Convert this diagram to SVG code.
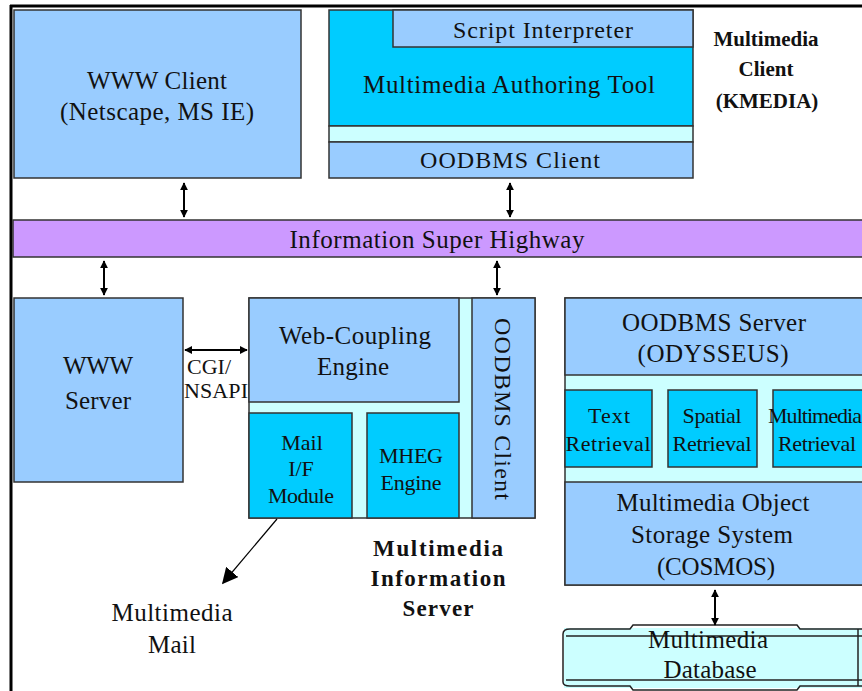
<svg xmlns="http://www.w3.org/2000/svg" width="862" height="691" viewBox="0 0 862 691">
<defs>
<style>
.lb{fill:#99ccff;stroke:#333;stroke-width:1.5}
.cy{fill:#00ccff;stroke:#333;stroke-width:1.5}
.lc{fill:#ccffff;stroke:#333;stroke-width:1.5}
.pu{fill:#cc99ff;stroke:#333;stroke-width:1.5}
text{font-family:"Liberation Serif","Times New Roman",serif;fill:#111;text-anchor:middle}
.t25{font-size:25px}
.t24{font-size:24px}
.t22{font-size:22px}
.b{font-size:21px;font-weight:bold}
.arr{stroke:#000;stroke-width:2;fill:none;marker-start:url(#ah);marker-end:url(#ah)}
</style>
<marker id="ah" viewBox="0 0 10 10" refX="9" refY="5" markerWidth="4" markerHeight="4" orient="auto-start-reverse" markerUnits="strokeWidth">
<path d="M0,0 L10,5 L0,10 z" fill="#000"/>
</marker>
<marker id="big" viewBox="0 0 10 10" refX="9" refY="5" markerWidth="16" markerHeight="16" orient="auto" markerUnits="userSpaceOnUse">
<path d="M0,0 L10,5 L0,10 z" fill="#000"/>
</marker>
</defs>
<rect width="862" height="691" fill="#fff"/>
<g id="frame" stroke="#000" stroke-width="3">
<line x1="10" y1="6" x2="862" y2="6"/>
<line x1="11" y1="5" x2="11" y2="691"/>
</g>

<g id="www-client">
<rect class="lb" x="14" y="10" width="287" height="168"/>
<text class="t25" x="157" y="89" textLength="140">WWW Client</text>
<text class="t25" x="157" y="120" textLength="194">(Netscape, MS IE)</text>
</g>

<g id="kmedia">
<rect class="cy" x="329" y="10" width="364" height="116"/>
<rect class="lb" x="393" y="10" width="300" height="37"/>
<text class="t24" x="543" y="38" textLength="180">Script Interpreter</text>
<text class="t25" x="509" y="93" textLength="292">Multimedia Authoring Tool</text>
<rect class="lc" x="329" y="126" width="364" height="16"/>
<rect class="lb" x="329" y="142" width="364" height="36"/>
<text class="t24" x="510" y="168" textLength="180">OODBMS Client</text>
</g>
<g id="kmedia-label">
<text class="b" x="766" y="46">Multimedia</text>
<text class="b" x="766" y="76">Client</text>
<text class="b" x="767" y="108">(KMEDIA)</text>
</g>

<g id="highway">
<rect class="pu" x="13" y="220" width="852" height="37"/>
<text class="t25" x="437" y="248" textLength="295">Information Super Highway</text>
</g>

<g id="www-server">
<rect class="lb" x="14" y="298" width="169" height="184"/>
<text class="t25" x="98" y="374" textLength="70">WWW</text>
<text class="t25" x="98" y="409" textLength="66">Server</text>
</g>
<g id="cgi-label">
<text class="t22" x="209" y="374" textLength="44">CGI/</text>
<text class="t22" x="216" y="398" textLength="64">NSAPI</text>
</g>

<g id="mis">
<rect class="lc" x="249" y="298" width="286" height="220"/>
<rect class="lb" x="249" y="298" width="210" height="104"/>
<text class="t25" x="355" y="344" textLength="152">Web-Coupling</text>
<text class="t25" x="353" y="375" textLength="72">Engine</text>
<rect class="lb" x="472" y="298" width="63" height="220"/>
<text class="t24" transform="translate(495,409) rotate(90)" textLength="182">OODBMS Client</text>
<rect class="cy" x="249" y="413" width="103" height="105"/>
<text class="t22" x="302" y="450">Mail</text>
<text class="t22" x="301" y="476">I/F</text>
<text class="t22" x="301" y="503" textLength="66">Module</text>
<rect class="cy" x="367" y="413" width="92" height="105"/>
<text class="t22" x="411" y="463" textLength="64">MHEG</text>
<text class="t22" x="411" y="490" textLength="61">Engine</text>
</g>
<g id="mis-label">
<text class="b" x="438" y="556" style="font-size:23px" textLength="130">Multimedia</text>
<text class="b" x="438" y="586" style="font-size:23px" textLength="135">Information</text>
<text class="b" x="438" y="616" style="font-size:23px" textLength="71">Server</text>
</g>

<g id="mm-mail">
<text class="t25" x="172" y="621" textLength="121">Multimedia</text>
<text class="t25" x="172" y="653" textLength="48">Mail</text>
</g>

<g id="oodbms-server">
<rect class="lc" x="565" y="298" width="300" height="287"/>
<rect class="lb" x="565" y="298" width="300" height="77"/>
<text class="t25" x="714" y="331" textLength="184">OODBMS Server</text>
<text class="t25" x="713" y="362" textLength="151">(ODYSSEUS)</text>
<rect class="cy" x="565" y="390" width="87" height="77"/>
<text class="t22" x="609" y="423" textLength="42">Text</text>
<text class="t22" x="608" y="451" textLength="85">Retrieval</text>
<rect class="cy" x="668" y="390" width="89" height="77"/>
<text class="t22" x="712" y="423" textLength="59">Spatial</text>
<text class="t22" x="712" y="451" textLength="79">Retrieval</text>
<rect class="cy" x="773" y="390" width="92" height="77"/>
<text class="t22" x="815" y="423" textLength="94">Multimedia</text>
<text class="t22" x="817" y="451" textLength="78">Retrieval</text>
<rect class="lb" x="565" y="482" width="300" height="103"/>
<text class="t25" x="713" y="511" textLength="193">Multimedia Object</text>
<text class="t25" x="712" y="543" textLength="162">Storage System</text>
<text class="t25" x="716" y="575" textLength="118">(COSMOS)</text>
</g>

<g id="database">
<rect x="564" y="628" width="300" height="60" fill="#ccffff"/>
<g fill="none" stroke="#222" stroke-width="1.5">
<path d="M570,629 L630,629 L633,625 L797,625 L800,629 L862,629"/>
<path d="M566,636 L862,636"/>
<path d="M566,680 L862,680"/>
<path d="M570,686 L630,686 L633,690 L797,690 L800,686 L862,686"/>
<path d="M570,629 Q563,629 563,634 L563,682 Q563,686 570,686"/>
<path d="M858,629 L858,686"/>
</g>
<text class="t25" x="708" y="648" textLength="120">Multimedia</text>
<text class="t25" x="710" y="678" textLength="93">Database</text>
</g>

<g id="connectors">
<line class="arr" x1="184" y1="183" x2="184" y2="217"/>
<line class="arr" x1="510" y1="183" x2="510" y2="217"/>
<line class="arr" x1="104" y1="261" x2="104" y2="295"/>
<line class="arr" x1="497" y1="261" x2="497" y2="295"/>
<line class="arr" x1="185" y1="350" x2="247" y2="350"/>
<line class="arr" x1="715" y1="590" x2="715" y2="625"/>
<line x1="277" y1="519" x2="223" y2="583" stroke="#000" stroke-width="1.2" marker-end="url(#big)"/>
</g>
</svg>
